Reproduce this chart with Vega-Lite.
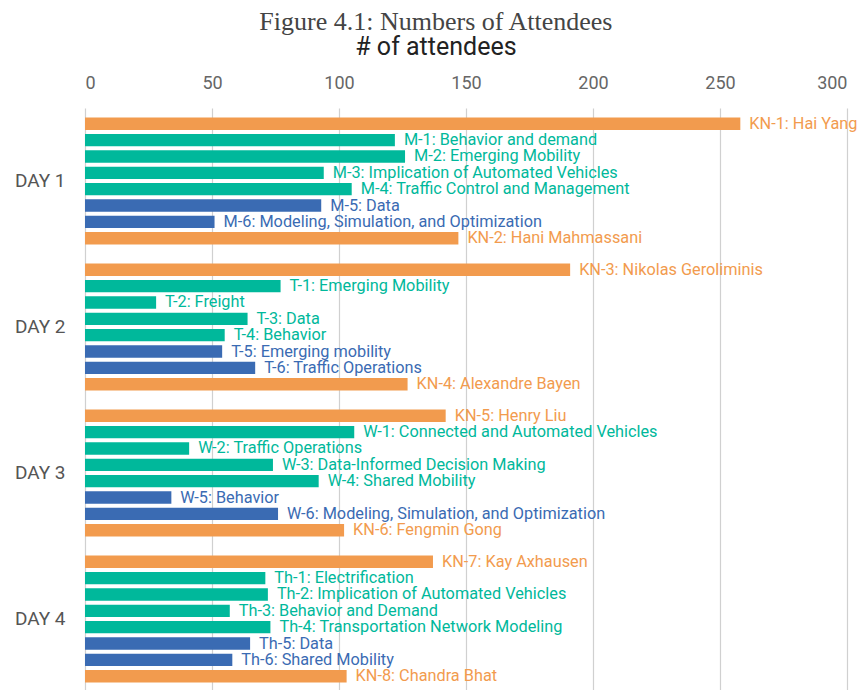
{
  "$schema": "https://vega.github.io/schema/vega-lite/v6.json",
  "width": 762,
  "height": 584,
  "autosize": {"type": "none"},
  "padding": {"left": 85, "top": 108, "right": 18, "bottom": 0},
  "background": "white",
  "config": {"view": {"stroke": null}, "font": "Roboto"},
  "title": {
    "text": "Figure 4.1: Numbers of Attendees",
    "subtitle": "# of attendees",
    "anchor": "middle",
    "frame": "bounds",
    "font": "Liberation Serif",
    "fontSize": 26,
    "fontWeight": "normal",
    "color": "#444444",
    "subtitleFont": "Roboto",
    "subtitleFontSize": 25,
    "subtitleColor": "#222222",
    "subtitlePadding": 0,
    "offset": 14
  },
  "data": {
    "values": [
      {"day": "DAY 1", "order": 1, "label": "KN-1: Hai Yang", "kind": "Keynote", "value": 258},
      {"day": "DAY 1", "order": 2, "label": "M-1: Behavior and demand", "kind": "Session A", "value": 122},
      {"day": "DAY 1", "order": 3, "label": "M-2: Emerging Mobility", "kind": "Session A", "value": 126},
      {"day": "DAY 1", "order": 4, "label": "M-3: Implication of Automated Vehicles", "kind": "Session A", "value": 94},
      {"day": "DAY 1", "order": 5, "label": "M-4: Traffic Control and Management", "kind": "Session A", "value": 105},
      {"day": "DAY 1", "order": 6, "label": "M-5: Data", "kind": "Session B", "value": 93},
      {"day": "DAY 1", "order": 7, "label": "M-6: Modeling, Simulation, and Optimization", "kind": "Session B", "value": 51},
      {"day": "DAY 1", "order": 8, "label": "KN-2: Hani Mahmassani", "kind": "Keynote", "value": 147},
      {"day": "DAY 2", "order": 1, "label": "KN-3: Nikolas Geroliminis", "kind": "Keynote", "value": 191},
      {"day": "DAY 2", "order": 2, "label": "T-1: Emerging Mobility", "kind": "Session A", "value": 77},
      {"day": "DAY 2", "order": 3, "label": "T-2: Freight", "kind": "Session A", "value": 28},
      {"day": "DAY 2", "order": 4, "label": "T-3: Data", "kind": "Session A", "value": 64},
      {"day": "DAY 2", "order": 5, "label": "T-4: Behavior", "kind": "Session A", "value": 55},
      {"day": "DAY 2", "order": 6, "label": "T-5: Emerging mobility", "kind": "Session B", "value": 54},
      {"day": "DAY 2", "order": 7, "label": "T-6: Traffic Operations", "kind": "Session B", "value": 67},
      {"day": "DAY 2", "order": 8, "label": "KN-4: Alexandre Bayen", "kind": "Keynote", "value": 127},
      {"day": "DAY 3", "order": 1, "label": "KN-5: Henry Liu", "kind": "Keynote", "value": 142},
      {"day": "DAY 3", "order": 2, "label": "W-1: Connected and Automated Vehicles", "kind": "Session A", "value": 106},
      {"day": "DAY 3", "order": 3, "label": "W-2: Traffic Operations", "kind": "Session A", "value": 41},
      {"day": "DAY 3", "order": 4, "label": "W-3: Data-Informed Decision Making", "kind": "Session A", "value": 74},
      {"day": "DAY 3", "order": 5, "label": "W-4: Shared Mobility", "kind": "Session A", "value": 92},
      {"day": "DAY 3", "order": 6, "label": "W-5: Behavior", "kind": "Session B", "value": 34},
      {"day": "DAY 3", "order": 7, "label": "W-6: Modeling, Simulation, and Optimization", "kind": "Session B", "value": 76},
      {"day": "DAY 3", "order": 8, "label": "KN-6: Fengmin Gong", "kind": "Keynote", "value": 102},
      {"day": "DAY 4", "order": 1, "label": "KN-7: Kay Axhausen", "kind": "Keynote", "value": 137},
      {"day": "DAY 4", "order": 2, "label": "Th-1: Electrification", "kind": "Session A", "value": 71},
      {"day": "DAY 4", "order": 3, "label": "Th-2: Implication of Automated Vehicles", "kind": "Session A", "value": 72},
      {"day": "DAY 4", "order": 4, "label": "Th-3: Behavior and Demand", "kind": "Session A", "value": 57},
      {"day": "DAY 4", "order": 5, "label": "Th-4: Transportation Network Modeling", "kind": "Session A", "value": 73},
      {"day": "DAY 4", "order": 6, "label": "Th-5: Data", "kind": "Session B", "value": 65},
      {"day": "DAY 4", "order": 7, "label": "Th-6: Shared Mobility", "kind": "Session B", "value": 58},
      {"day": "DAY 4", "order": 8, "label": "KN-8: Chandra Bhat", "kind": "Keynote", "value": 103}
    ]
  },
  "encoding": {
    "y": {
      "field": "day",
      "type": "nominal",
      "scale": {"paddingInner": 0, "paddingOuter": 0},
      "axis": {
        "title": null,
        "domain": false,
        "ticks": false,
        "labelFont": "Roboto",
        "labelFontSize": 19,
        "labelColor": "#555555",
        "labelPadding": 20
      }
    },
    "yOffset": {
      "field": "order",
      "type": "ordinal",
      "scale": {"paddingInner": 0.245, "paddingOuter": 0.585}
    },
    "x": {
      "field": "value",
      "type": "quantitative",
      "scale": {"domain": [0, 300], "nice": false},
      "axis": {
        "orient": "top",
        "title": null,
        "values": [0, 50, 100, 150, 200, 250, 300],
        "grid": true,
        "gridColor": "#d0d0d0",
        "gridWidth": 1.2,
        "domain": false,
        "ticks": false,
        "labelFont": "Roboto",
        "labelFontSize": 18,
        "labelColor": "#666666",
        "labelPadding": 16
      }
    },
    "color": {
      "field": "kind",
      "type": "nominal",
      "scale": {
        "domain": ["Keynote", "Session A", "Session B"],
        "range": ["#F29B4E", "#00B89B", "#3A6BB3"]
      },
      "legend": null
    }
  },
  "layer": [
    {"mark": {"type": "bar"}},
    {
      "mark": {"type": "text", "align": "left", "baseline": "middle", "dx": 9, "fontSize": 16.3, "font": "Roboto"},
      "encoding": {"text": {"field": "label"}}
    }
  ]
}
